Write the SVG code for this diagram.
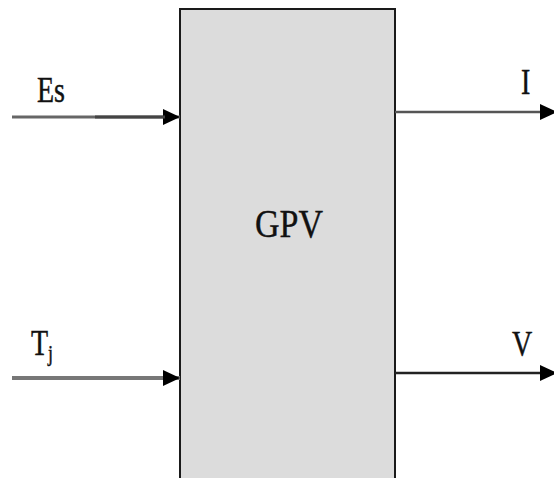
<svg xmlns="http://www.w3.org/2000/svg" width="554" height="478" viewBox="0 0 554 478">
<style>
.lbl{font-family:"Liberation Serif","Times New Roman",serif;fill:#111;stroke:#111;stroke-width:0.35}
.box{fill:#dcdcdc;stroke:#1a1a1a;stroke-width:2}
</style>
<defs>
<marker id="ah" markerUnits="userSpaceOnUse" markerWidth="17" markerHeight="16" refX="17" refY="8" orient="auto">
<path d="M0,0 L17,8 L0,16 Z" fill="#000"/>
</marker>
</defs>
<rect width="554" height="478" fill="#fff"/>
<g id="gpv">
<rect class="box" x="180" y="9" width="215" height="480"/>
<text class="lbl" transform="translate(289,237) scale(1,1.18)" font-size="34" text-anchor="middle">GPV</text>
</g>
<g id="connectors">
<line x1="12" y1="117" x2="180" y2="117" stroke="#666" stroke-width="3" marker-end="url(#ah)"/>
<line x1="95" y1="117" x2="165" y2="117" stroke="#444" stroke-width="3"/>
<line x1="12" y1="378" x2="180" y2="378" stroke="#777" stroke-width="4" marker-end="url(#ah)"/>
<line x1="395" y1="112" x2="557" y2="112" stroke="#555" stroke-width="2.5" marker-end="url(#ah)"/>
<line x1="395" y1="373" x2="557" y2="373" stroke="#222" stroke-width="2.5" marker-end="url(#ah)"/>
</g>
<g id="labels">
<text class="lbl" transform="translate(37,102) scale(1,1.25)" font-size="28">Es</text>
<text class="lbl" transform="translate(521,94) scale(1,1.25)" font-size="28">I</text>
<text class="lbl" transform="translate(31,355) scale(1,1.25)" font-size="28">T<tspan font-size="18" dy="5">j</tspan></text>
<text class="lbl" transform="translate(512,356) scale(1,1.25)" font-size="28">V</text>
</g>
</svg>
